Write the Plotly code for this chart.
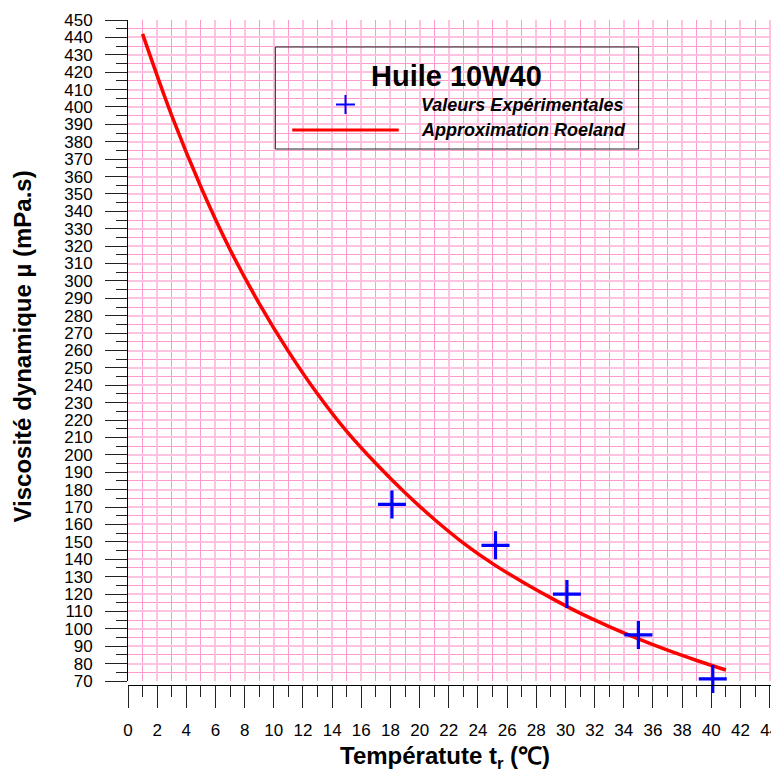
import plotly.graph_objects as go

# ---- data ----
exp_temp = [18.1, 25.2, 30.1, 35.0, 40.1]
exp_visc = [171.5, 148.0, 120.0, 96.5, 71.2]

fit_temp = [1, 3, 5, 7, 9, 11, 13, 15, 17, 19, 21, 23, 25, 27, 29, 31, 33, 35, 37, 39, 41]
fit_visc = [442.0, 395.0, 354.0, 318.0, 287.0, 259.5, 235.0, 213.5, 195.0, 178.2, 163.0, 149.3,
            137.5, 127.2, 117.8, 109.0, 101.3, 94.2, 87.7, 81.8, 76.3]

legend_title = "Huile 10W40"
series_names = ["Valeurs Expérimentales", "Approximation Roeland"]
x_title = "Températute t<sub>r</sub> (℃)"
y_title = "Viscosité dynamique µ (mPa.s)"

FONT = "Liberation Sans, Arial, Helvetica, sans-serif"
OFF = 8  # default page body margin
W, H = 771, 765
ML, MR, MT, MB = 120, 0, 12, 88
PW, PH = W - ML - MR, H - MT - MB

def px(sx):
    return (sx - OFF - ML) / PW

def py(sy):
    return (H - MB - (sy - OFF)) / PH

fig = go.Figure()
fig.add_trace(go.Scatter(x=fit_temp, y=fit_visc, mode="lines", name=series_names[1],
                         line=dict(color="#ff0000", width=3.5, shape="spline", smoothing=1.0),
                         showlegend=False))
fig.add_trace(go.Scatter(x=exp_temp, y=exp_visc, mode="markers", name=series_names[0],
                         marker=dict(symbol="cross-thin", size=20, color="#0000ff",
                                     line=dict(color="#0000ff", width=3.2)),
                         cliponaxis=False, showlegend=False))

major_grid = "#ffc2e1"
minor_grid = "#ff99cc"

fig.update_xaxes(range=[0, PW / 14.65], dtick=2, tick0=0, ticks="outside", ticklen=22,
                 tickcolor="#222", tickwidth=1, showline=True, linecolor="black", linewidth=1,
                 showgrid=True, gridcolor=major_grid, gridwidth=2, zeroline=False,
                 anchor="free", position=0, ticklabelstandoff=8, ticklabeloverflow="allow",
                 tickfont=dict(family=FONT, size=17, color="black"),
                 minor=dict(dtick=1, tick0=0, ticks="outside", ticklen=11, tickcolor="#222",
                            showgrid=True, gridcolor=minor_grid, gridwidth=1))
fig.update_yaxes(range=[70, 450], dtick=10, tick0=0, ticks="outside", ticklen=22,
                 tickcolor="#222", tickwidth=1, showline=True, linecolor="black", linewidth=1,
                 showgrid=True, gridcolor=major_grid, gridwidth=2, zeroline=False,
                 domain=[4 / PH, 1], ticklabelstandoff=9,
                 tickfont=dict(family=FONT, size=17, color="black"),
                 minor=dict(dtick=5, tick0=0, ticks="outside", ticklen=11, tickcolor="#222",
                            showgrid=True, gridcolor=minor_grid, gridwidth=1))

shapes = [
    # legend box
    dict(type="rect", xref="paper", yref="paper", x0=px(276), x1=px(641), y0=py(149), y1=py(47),
         line=dict(color="#222", width=1), fillcolor="rgba(0,0,0,0)"),
    # legend cross
    dict(type="line", xref="paper", yref="paper", x0=px(337), x1=px(356), y0=py(104.5), y1=py(104.5),
         line=dict(color="#0000ff", width=2)),
    dict(type="line", xref="paper", yref="paper", x0=px(346.5), x1=px(346.5), y0=py(95), y1=py(114),
         line=dict(color="#0000ff", width=2)),
    # legend red line
    dict(type="line", xref="paper", yref="paper", x0=px(293), x1=px(400), y0=py(130), y1=py(130),
         line=dict(color="#ff0000", width=3)),
]

annotations = [
    dict(text="<b>" + legend_title + "</b>", xref="paper", yref="paper", x=px(458), y=py(76),
         xanchor="center", yanchor="middle", showarrow=False,
         font=dict(family=FONT, size=29, color="black")),
    dict(text="<b><i>" + series_names[0] + "</i></b>", xref="paper", yref="paper", x=px(420), y=py(105),
         xanchor="left", yanchor="middle", showarrow=False,
         font=dict(family=FONT, size=18, color="black")),
    dict(text="<b><i>" + series_names[1] + "</i></b>", xref="paper", yref="paper", x=px(420), y=py(130),
         xanchor="left", yanchor="middle", showarrow=False,
         font=dict(family=FONT, size=18, color="black")),
    dict(text="<b>" + x_title + "</b>", xref="paper", yref="paper", x=px(446), y=py(757),
         xanchor="center", yanchor="middle", showarrow=False,
         font=dict(family=FONT, size=24, color="black")),
    dict(text="<b>" + y_title + "</b>", xref="paper", yref="paper", x=px(22), y=py(346),
         xanchor="center", yanchor="middle", showarrow=False, textangle=-90,
         font=dict(family=FONT, size=24, color="black")),
]

fig.update_layout(width=W, height=H, margin=dict(l=ML, r=MR, t=MT, b=MB, pad=0),
                  paper_bgcolor="white", plot_bgcolor="white", showlegend=False,
                  shapes=shapes, annotations=annotations)

fig.write_html("out.html")
